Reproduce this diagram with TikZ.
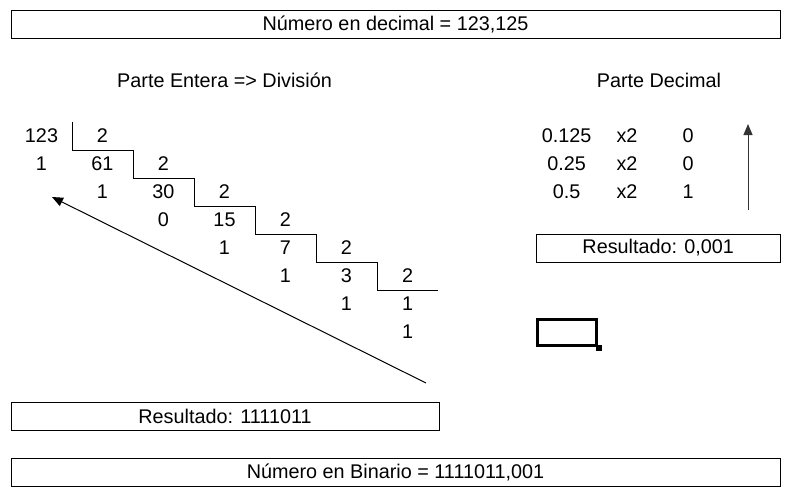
\documentclass[tikz,border=0pt]{standalone}
\usepackage{fontspec}
\setmainfont{Liberation Sans}
\usetikzlibrary{arrows.meta}

\begin{document}
\begin{tikzpicture}[x=1pt,y=-1pt,
    txt/.style={font=\fontsize{19.8}{22}\selectfont,inner sep=0pt},
    cellbox/.style={txt,draw,line width=1pt,minimum height=28pt},
    tip/.style={-{Triangle[length=11pt,width=9pt]},line width=1pt}]
  \useasboundingbox (0,0) rectangle (789,493);
  \newcommand{\celda}[4]{%
    \node[txt] (#1) at ({41.5+61*(#2)},{136+28*(#3)}) {#4};}
  % cabecera
  \node[cellbox,minimum width=769pt] (dec) at (395.5,24) {Número en decimal = 123,125};
  \node[txt] (entera) at (224.5,80) {Parte Entera => División};
  \node[txt] (decimal) at (659,80) {Parte Decimal};
  % divisiones sucesivas
  \foreach \k/\n/\r in {0/123/1,1/61/1,2/30/0,3/15/1,4/7/1,5/3/1,6/1/1}{%
    \celda{n\k}{\k}{\k}{\n}
    \celda{r\k}{\k}{\k+1}{\r}
  }
  \foreach \k in {0,...,5}{%
    \celda{dv\k}{\k+1}{\k}{2}
    \draw[line width=1pt] ({72+61*\k},{122+28*\k}) |- ({133+61*\k},{150.5+28*\k});
  }
  \coordinate (ini) at (426,383);
  \coordinate (fin) at (52,197);
  \draw[tip] (ini) -- (fin);
  \node[cellbox,minimum width=428pt] (resent) at (225,416) {Resultado: 1111011};
  % parte decimal
  \foreach \i/\v/\b in {0/0.125/0,1/0.25/0,2/0.5/1}{%
    \node[txt] (v\i) at (566.7,{136+28*\i}) {\v};
    \node[txt] (x\i) at (627,{136+28*\i}) {x2};
    \node[txt] (b\i) at (688,{136+28*\i}) {\b};
  }
  \coordinate (abajo) at (748,210);
  \coordinate (arriba) at (748,124);
  \draw[tip,black!80] (abajo) -- (arriba);
  \node[cellbox,minimum width=243.5pt] (resdec) at (658.25,248) {Resultado: 0,001};
  % cursor
  \draw[line width=3pt] (537.5,319.5) rectangle (596.5,345.5);
  \fill (595.5,344.5) rectangle (601.5,350.5);
  \node[cellbox,minimum width=769pt] (bin) at (395.5,472) {Número en Binario = 1111011,001};
\end{tikzpicture}
\end{document}
